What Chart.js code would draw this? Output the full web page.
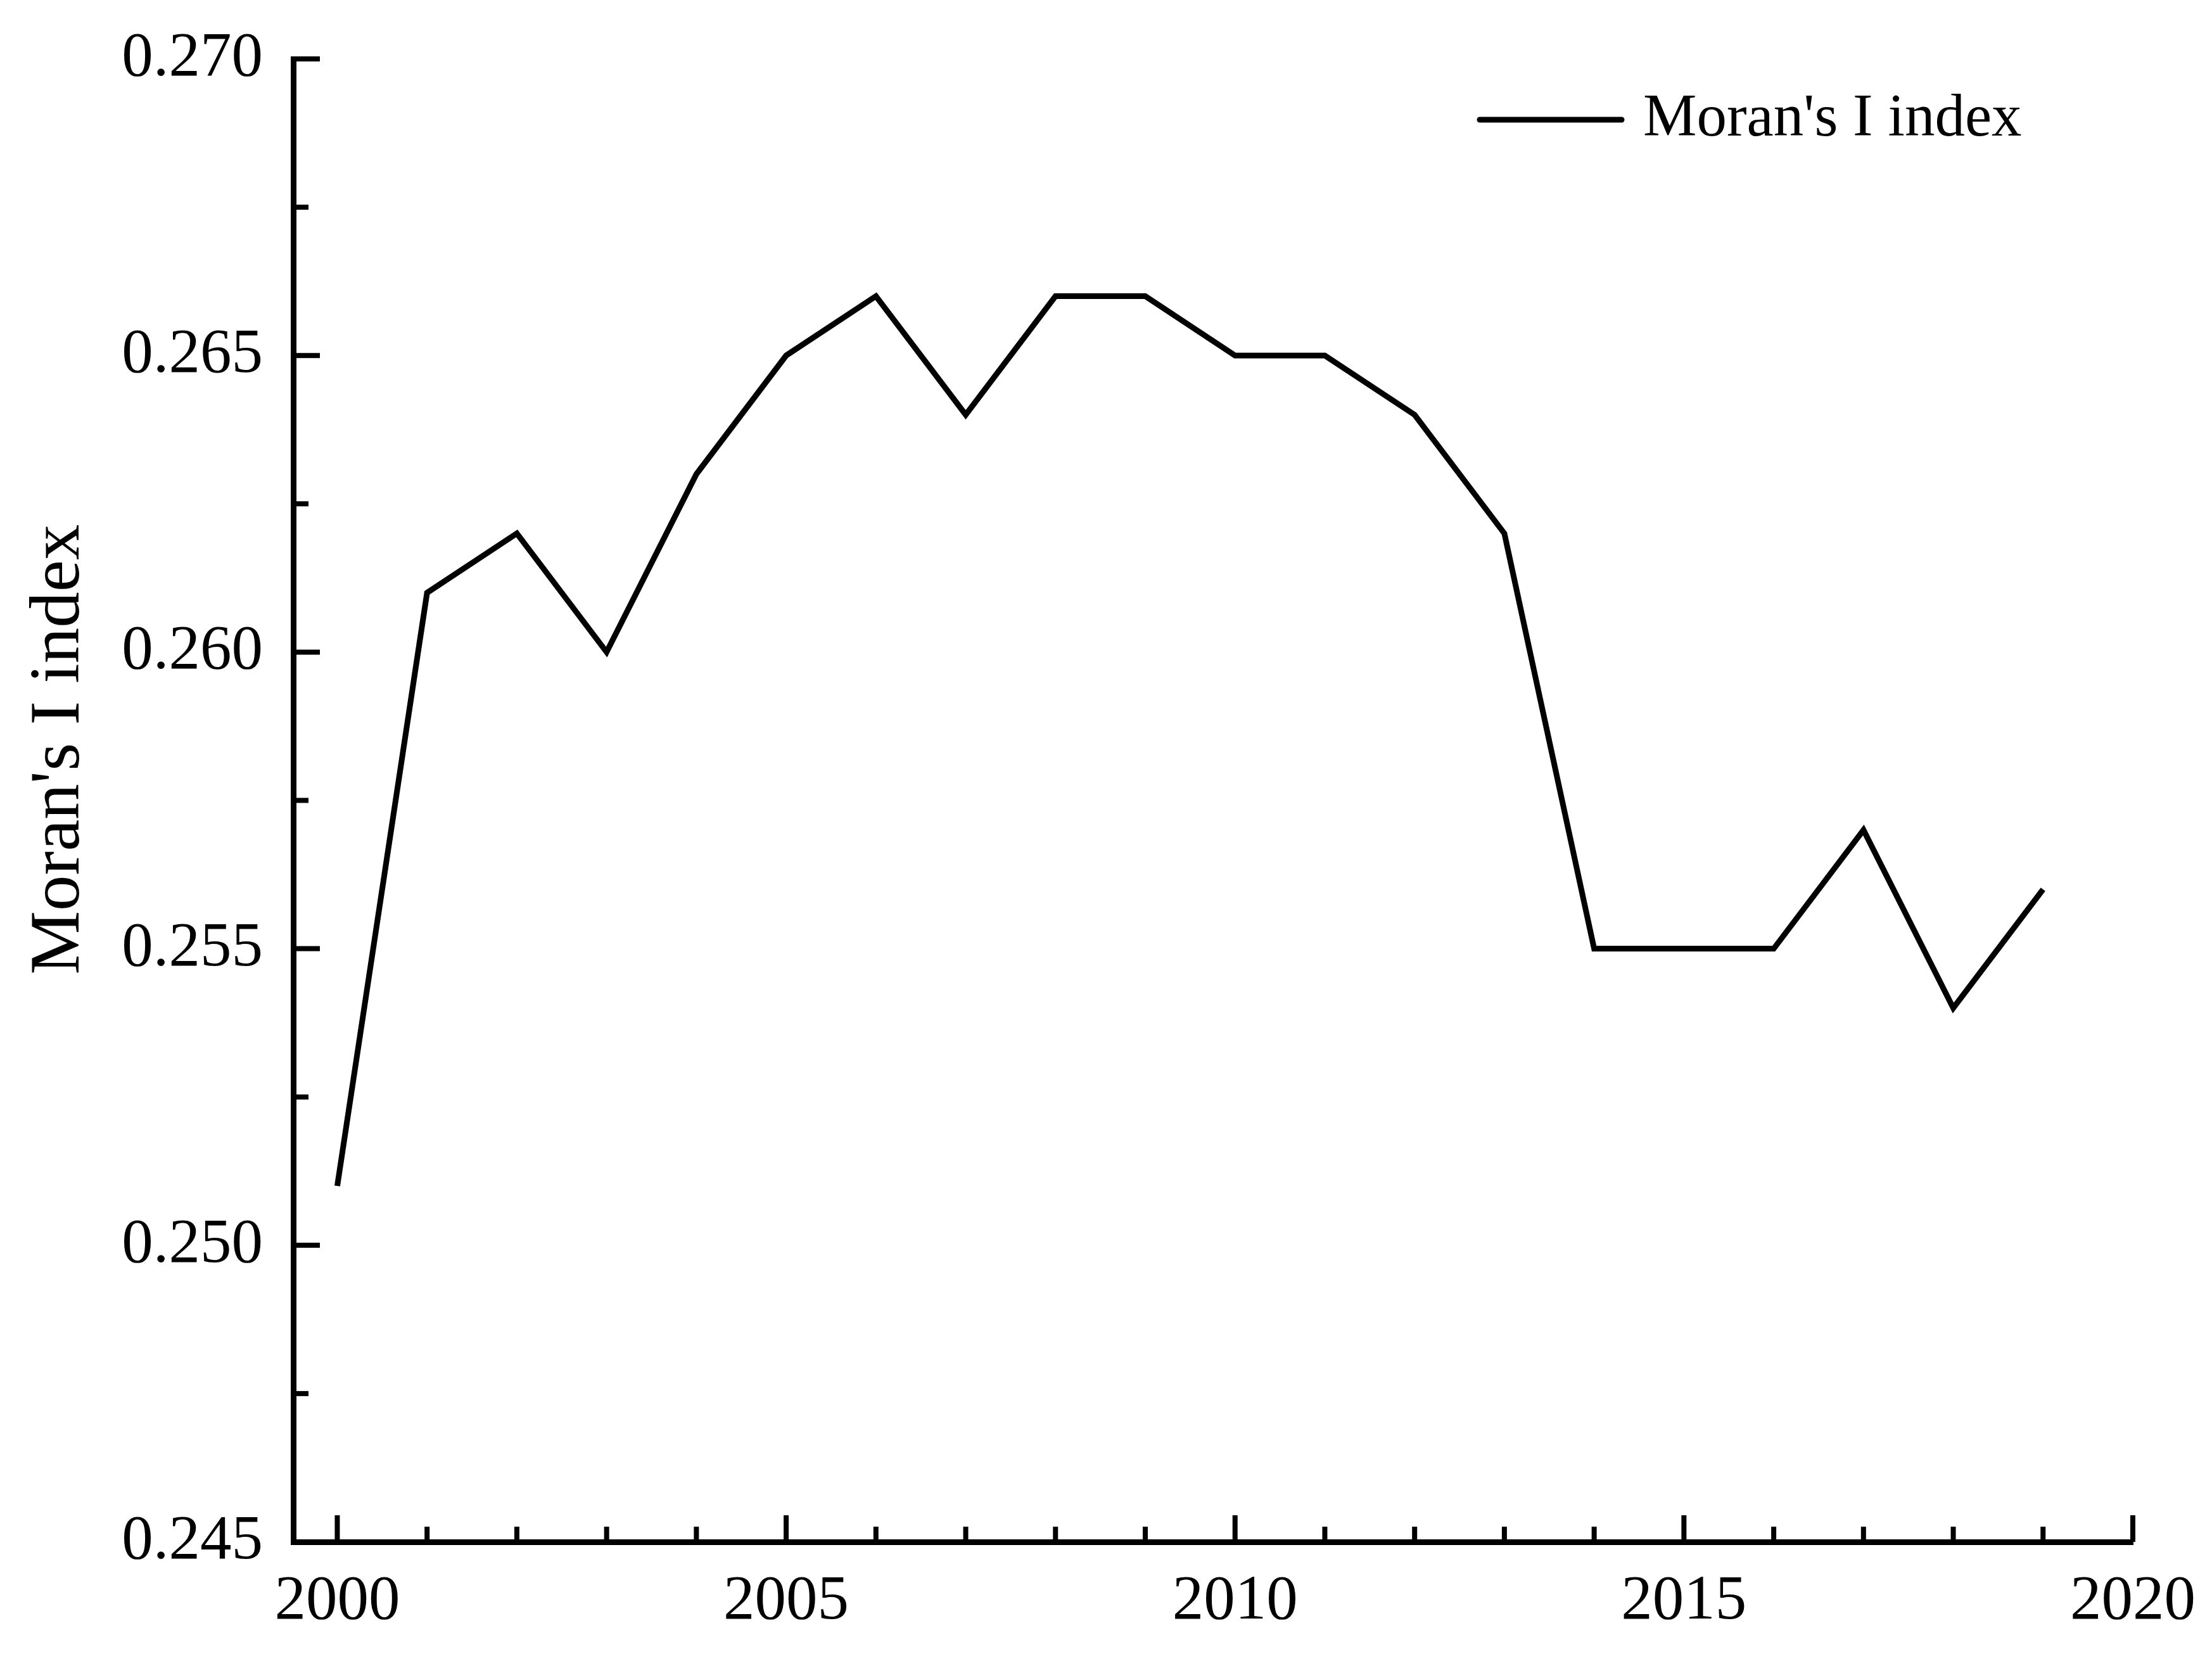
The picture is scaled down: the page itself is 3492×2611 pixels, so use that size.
<!DOCTYPE html>
<html>
<head>
<meta charset="utf-8">
<script src="https://cdn.jsdelivr.net/npm/chart.js@4/dist/chart.umd.min.js"></script>
<style>
  html, body { margin: 0; padding: 0; background: #fff; }
  #wrap { width: 3492px; height: 2611px; }
</style>
</head>
<body>
<div id="wrap"><canvas id="chart-moran"></canvas></div>
<script>
// data
const years = [2000, 2001, 2002, 2003, 2004, 2005, 2006, 2007, 2008, 2009,
               2010, 2011, 2012, 2013, 2014, 2015, 2016, 2017, 2018, 2019];
const moranI = [0.251, 0.261, 0.262, 0.260, 0.263, 0.265, 0.266, 0.264, 0.266, 0.266,
                0.265, 0.265, 0.264, 0.262, 0.255, 0.255, 0.255, 0.257, 0.254, 0.256];
const xMajorTicks = [2000, 2005, 2010, 2015, 2020];
const yMajorTicks = [0.245, 0.250, 0.255, 0.260, 0.265, 0.270];
const seriesLabel = "Moran's I index";
const yTitle = "Moran's I index";

const FONT = "'Liberation Serif', 'Times New Roman', serif";

// Origin style ticks, pointing into the plot
const innerTicks = {
    id: 'innerTicks',
    afterDraw(chart) {
        const ctx = chart.ctx;
        const x = chart.scales.x, y = chart.scales.y;
        const area = chart.chartArea;
        ctx.save();
        ctx.strokeStyle = '#000';
        ctx.lineWidth = 8;
        ctx.lineCap = 'butt';
        for (let yr = 2000; yr <= 2020; yr++) {
            const px = x.getPixelForValue(yr);
            const len = xMajorTicks.includes(yr) ? 42 : 24;
            ctx.beginPath();
            ctx.moveTo(px, area.bottom);
            ctx.lineTo(px, area.bottom - len);
            ctx.stroke();
        }
        for (let i = 0; i <= 10; i++) {
            const v = 0.245 + i * 0.0025;
            const py = y.getPixelForValue(v);
            const len = i % 2 === 0 ? 42 : 24;
            ctx.beginPath();
            ctx.moveTo(area.left, py);
            ctx.lineTo(area.left + len, py);
            ctx.stroke();
        }
        ctx.restore();
    }
};

// legend inside the plot, top right, plus rotated y title
const insideLegend = {
    id: 'insideLegend',
    afterDraw(chart) {
        const ctx = chart.ctx;
        const area = chart.chartArea;
        ctx.save();
        ctx.strokeStyle = '#000';
        ctx.lineWidth = 9;
        ctx.lineCap = 'round';
        const ly = area.top + 96;
        ctx.beginPath();
        ctx.moveTo(2336, ly);
        ctx.lineTo(2560, ly);
        ctx.stroke();
        ctx.fillStyle = '#000';
        ctx.font = '95px ' + FONT;
        ctx.textBaseline = 'middle';
        ctx.textAlign = 'left';
        ctx.fillText(chart.data.datasets[0].label, 2594, ly);

        ctx.translate(94, 1183);
        ctx.rotate(-Math.PI / 2);
        ctx.font = '113px ' + FONT;
        ctx.textAlign = 'center';
        ctx.fillText(yTitle, 0, 0);
        ctx.restore();
    }
};

new Chart(document.getElementById('chart-moran'), {
    type: 'line',
    data: {
        datasets: [{
            label: seriesLabel,
            data: years.map((yr, i) => ({ x: yr, y: moranI[i] })),
            borderColor: '#000',
            borderWidth: 9,
            borderJoinStyle: 'miter',
            pointRadius: 0,
            tension: 0,
            fill: false
        }]
    },
    options: {
        responsive: true,
        maintainAspectRatio: false,
        animation: false,
        layout: { padding: { top: 93, right: 125, left: 0, bottom: 0 } },
        plugins: { legend: { display: false }, tooltip: { enabled: false } },
        scales: {
            x: {
                type: 'linear',
                min: 1999.51,
                max: 2020,
                afterBuildTicks: s => { s.ticks = xMajorTicks.map(v => ({ value: v })); },
                afterFit: s => { s.height = 177; s.paddingLeft = 0; s.paddingRight = 0; },
                grid: { display: false, drawTicks: false },
                border: { display: true, color: '#000', width: 9 },
                ticks: {
                    color: '#000',
                    padding: 36,
                    maxRotation: 0,
                    font: { family: FONT, size: 99 },
                    callback: v => String(v)
                }
            },
            y: {
                type: 'linear',
                min: 0.245,
                max: 0.270,
                afterBuildTicks: s => { s.ticks = yMajorTicks.map(v => ({ value: v })); },
                afterFit: s => { s.width = 463; s.paddingTop = 0; s.paddingBottom = 0; },
                grid: { display: false, drawTicks: false },
                border: { display: true, color: '#000', width: 9 },
                ticks: {
                    color: '#000',
                    padding: 48,
                    font: { family: FONT, size: 99 },
                    callback: v => v.toFixed(3)
                }
            }
        }
    },
    plugins: [innerTicks, insideLegend]
});
</script>
</body>
</html>
